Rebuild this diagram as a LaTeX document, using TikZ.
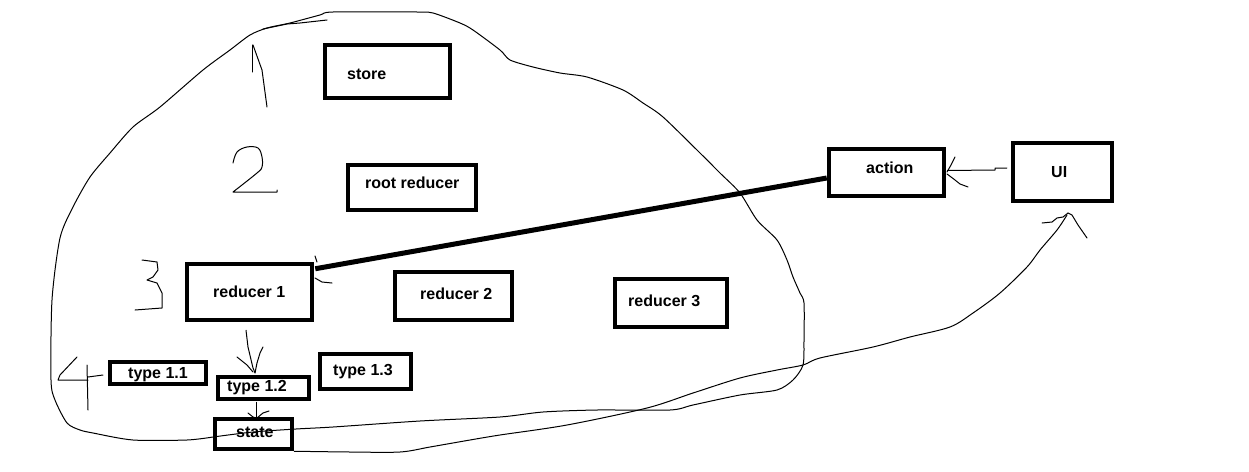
\documentclass[tikz,border=0pt]{standalone}
\usepackage{fontspec}
\setmainfont{Liberation Sans}
\usetikzlibrary{calc}
\begin{document}
\begin{tikzpicture}[x=1pt,y=-1pt,
  box/.style={draw,line width=4.5pt,inner sep=0pt},
  lbl/.style={font=\bfseries\fontsize{16}{18}\selectfont,inner sep=0pt,anchor=base west},
  pen/.style={line width=1pt,line join=round,line cap=round},
  heavy/.style={line width=5pt}]
\useasboundingbox[fill=white] (0,0) rectangle (1249,471);
% boxes
\node[box,minimum width=125pt,minimum height=53pt] (store) at (387.5,71.5) {};
\node[box,minimum width=128pt,minimum height=45pt] (root) at (412,187.5) {};
\node[box,minimum width=115pt,minimum height=47pt] (action) at (886.5,172.5) {};
\node[box,minimum width=99pt,minimum height=58pt] (ui) at (1062.5,172) {};
\node[box,minimum width=125pt,minimum height=56pt] (red1) at (249.5,292) {};
\node[box,minimum width=117pt,minimum height=48pt] (red2) at (453.5,296) {};
\node[box,minimum width=112pt,minimum height=48pt] (red3) at (671,303) {};
\node[box,minimum width=96pt,minimum height=22pt] (t11) at (158,373) {};
\node[box,minimum width=91pt,minimum height=22pt] (t12) at (263.5,388) {};
\node[box,minimum width=91pt,minimum height=35pt] (t13) at (365.5,371.5) {};
\node[box,minimum width=77pt,minimum height=30pt] (state) at (253.5,434) {};
% labels
\node[lbl] (lstore) at (347,79) {store};
\node[lbl] (lroot) at (365,188) {root reducer};
\node[lbl] (laction) at (866,173) {action};
\node[lbl] (lui) at (1051,177) {UI};
\node[lbl] (lred1) at (213,297) {reducer 1};
\node[lbl] (lred2) at (420,299) {reducer 2};
\node[lbl] (lred3) at (628,306) {reducer 3};
\node[lbl] (lt11) at (128,378) {type 1.1};
\node[lbl] (lt12) at (227,391) {type 1.2};
\node[lbl] (lt13) at (333,375) {type 1.3};
\node[lbl] (lstate) at (236,437) {state};
% blob
\draw[pen] plot[smooth,tension=0.45] coordinates {
 (213,437) (253,432) (296,429) (333,427) (420,421) (500,417) (543,412) (597,410) (670,410)
 (693,405) (740,395) (777,390) (793,380) (803,365) (804,340) (804,303) (800,293) (793,277)
 (787,260) (777,240) (757,220) (740,193) (720,173)
 (700,153) (663,117) (643,103) (623,90) (587,77) (560,73) (533,67) (510,60) (500,50)
 (473,30) (460,23) (433,13) (417,12) (333,12) (320,15) (290,23) (267,28) (250,35) (230,50)
 (203,70) (160,107) (133,127) (110,153) (90,177) (73,207) (60,238)
 (52,300) (51,380) (55,400) (67,423) (80,430) (93,433) (133,440) (187,440) (213,437)};
\draw[pen] (263,29) -- (287,24) -- (300,23) -- (327,20);
% digits
\draw[pen] (252,45) -- (252,72);
\draw[pen] (253,45) -- (262,70) -- (267,107);
\draw[pen] plot[smooth,tension=0.6] coordinates {(233,163) (237,152) (247,147) (258,148) (262,157) (262,167) (257,173) (233,192)} -- (277,192) -- (277,190);
\draw[pen] (142,260) -- (157,262) -- (158,270) -- (153,277) -- (147,280) -- (157,283) -- (162,293) -- (162,308) -- (135,310);
\draw[pen] (77,357) -- (60,375) -- (58,380) -- (88,380);
\draw[pen] (87,365) -- (88,410);
\draw[pen] (88,377) -- (103,375);
% thick connector action -> reducer 1
\draw[heavy] ($(action.west)+(0,5.5)$) -- ($(red1.north east)+(1,7)$);
\draw[pen] (315,256) -- (317,262);
\draw[pen] (315,278) -- (322,282) -- (332,283);
% UI -> action
\draw[pen] ($(ui.west)+(-4,-4)$) -- (995,168) -- (995,170) -- ($(action.east)+(1,-2)$);
\draw[pen] (955,157) -- (951,165) -- (947,172);
\draw[pen] (947,174) -- (955,180) -- (960,184) -- (968,187);
% reducer 1 -> type 1.2
\draw[pen] ($(red1.south)+(-3.5,8)$) -- (248,347) -- (253,368) -- ($(t12.north)+(-8.5,-2)$);
\draw[pen] (237,357) -- (247,365) -- (253,372);
\draw[pen] (263,347) -- (260,353) -- (257,363) -- (255,373);
% type 1.2 -> state
\draw[pen] ($(t12.south)+(-7.5,1)$) -- ($(state.north)+(2.5,1)$);
\draw[pen] (248,413) -- (253,417) -- (256,418);
\draw[pen] (269,411) -- (263,413) -- (257,418);
% state -> UI
\draw[pen] plot[smooth,tension=0.5] coordinates {(state.south east) (350,452) (400,452) (430,447) (470,440)
 (500,435) (567,425) (647,408) (693,393) (740,378) (777,370) (803,365) (820,358) (873,347)
 (910,337) (950,327) (973,313) (1000,293) (1027,267) (1040,250) (1057,230) (1067,215)};
\draw[pen] (1042,223) -- (1052,222) -- (1057,218) -- (1063,217) -- (1068,213);
\draw[pen] (1068,213) -- (1072,215) -- (1078,225) -- (1087,238);
\end{tikzpicture}
\end{document}
